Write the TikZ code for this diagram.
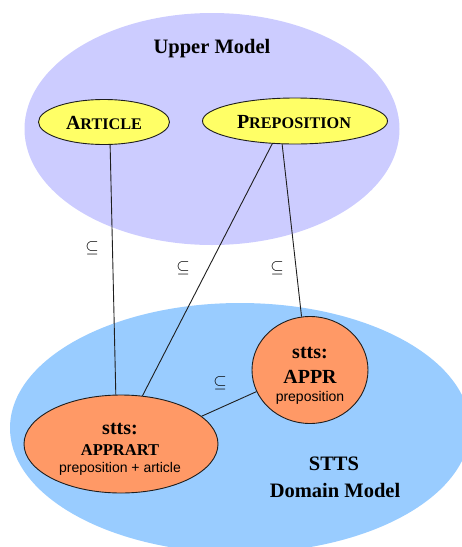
\documentclass[tikz,border=0pt]{standalone}
\usepackage{fontspec}
\setmainfont{Liberation Serif}
\setsansfont{Liberation Sans}
\usetikzlibrary{shapes.geometric}
\definecolor{upperc}{RGB}{204,204,255}
\definecolor{lowerc}{RGB}{153,204,255}
\definecolor{yelc}{RGB}{255,255,102}
\definecolor{orac}{RGB}{255,153,102}
\definecolor{linec}{RGB}{30,30,30}
\newcommand\mysmcap[2]{{\fontsize{20}{20}\selectfont #1}{\fontsize{16.2}{16.2}\selectfont #2}}
\begin{document}
\begin{tikzpicture}[x=1pt,y=-1pt,
  regionnode/.style={ellipse, inner sep=0pt, draw=none},
  conceptnode/.style={ellipse, inner sep=0pt, draw=linec, line width=0.9pt, fill=yelc},
  domnode/.style={ellipse, inner sep=0pt, draw=linec, line width=0.9pt, fill=orac},
  ttltext/.style={font=\bfseries\fontsize{20.5}{22}\selectfont, anchor=base, inner sep=0pt},
  bigtext/.style={font=\bfseries\fontsize{20}{22}\selectfont, anchor=base, inner sep=0pt},
  midtext/.style={font=\bfseries\fontsize{16.5}{18}\selectfont, anchor=base, inner sep=0pt},
  smalltext/.style={font=\sffamily\fontsize{14}{16}\selectfont, anchor=base, inner sep=0pt},
  subtext/.style={font=\fontsize{17}{17}\selectfont, inner sep=0pt},
  linkline/.style={draw=linec, line width=0.9pt}]
\useasboundingbox (0,0) rectangle (462,547);
\begin{scope}
\clip (0,0) rectangle (462,547);
\node[regionnode, fill=lowerc, minimum width=460pt, minimum height=250pt] (lower) at (240,428) {};
\end{scope}
\node[regionnode, fill=upperc, minimum width=375pt, minimum height=232pt] (upper) at (212,129) {};
\node[ttltext] (uppert) at (212,53) {Upper Model};
\node[conceptnode, minimum width=131pt, minimum height=45pt] (art) at (104,122) {};
\node[anchor=base, inner sep=0pt, font=\bfseries] (artt) at (104,129) {\mysmcap{A}{RTICLE}};
\node[conceptnode, minimum width=185pt, minimum height=46pt] (prep) at (295,121) {};
\node[anchor=base, inner sep=0pt, font=\bfseries] (prept) at (294,128) {\mysmcap{P}{REPOSITION}};
\node[domnode, minimum width=194pt, minimum height=98pt] (apprart) at (121,444) {};
\node[domnode, minimum width=116pt, minimum height=107pt] (appr) at (310,370) {};
\node[bigtext] (s1) at (120,434) {stts:};
\node[midtext] (s2) at (120,455) {APPRART};
\node[smalltext] (s3) at (120,472) {preposition + article};
\node[bigtext] (a1) at (310,358) {stts:};
\node[bigtext] (a2) at (310,383) {APPR};
\node[smalltext] (a3) at (310,401) {preposition};
\node[ttltext] (d1) at (334,470) {STTS};
\node[ttltext] (d2) at (335,497) {Domain Model};
\draw[linkline] (art.-75) -- (apprart.96);
\draw[linkline] (prep.-135) -- (apprart.66);
\draw[linkline] (prep.-119) -- (appr.99);
\draw[linkline] (appr.202) -- (apprart.19);
\node[subtext] (r1) at (92,248) {$\subseteq$};
\node[subtext] (r2) at (183,268) {$\subseteq$};
\node[subtext] (r3) at (277,268) {$\subseteq$};
\node[subtext] (r4) at (220,383) {$\subseteq$};
\end{tikzpicture}
\end{document}
